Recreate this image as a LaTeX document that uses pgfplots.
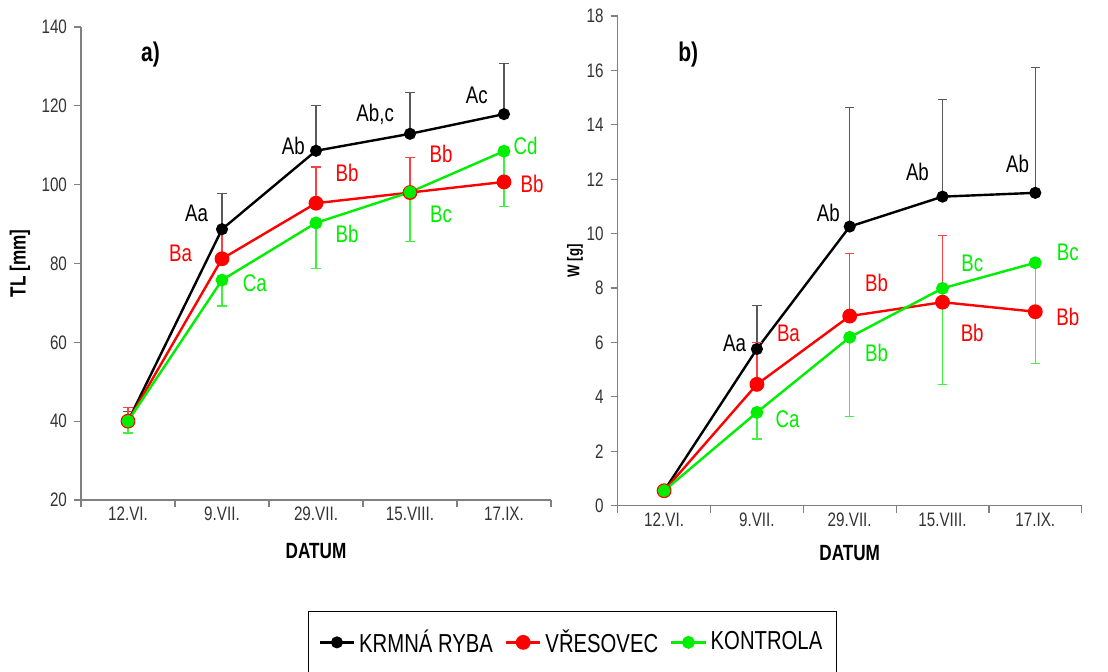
\documentclass[border=0pt]{standalone}
\usepackage{fontspec}
\setmainfont{Liberation Sans}[FakeStretch=0.78]
\usepackage{pgfplots}
\pgfplotsset{compat=1.18}
\definecolor{cred}{RGB}{255,0,0}
\definecolor{cgreen}{RGB}{0,238,0}
\newcommand{\ann}{\fontsize{12}{14}\selectfont}
\newcommand{\pan}{\bfseries\fontsize{13.5}{15}\selectfont}

\pgfplotsset{
 common/.style={
  scale only axis, clip=false,
  axis x line*=bottom, axis y line*=left,
  axis line style={draw=black!50, line width=0.6pt},
  xmin=-0.5, xmax=4.5,
  xtick={-0.5,0.5,1.5,2.5,3.5,4.5},
  xticklabels={},
  extra x ticks={0,1,2,3,4},
  extra x tick labels={12.VI.,9.VII.,29.VII.,15.VIII.,17.IX.},
  extra x tick style={major tick length=0pt},
  tick align=outside,
  major tick length=3.5pt,
  tick style={draw=black!50, line width=0.6pt},
  tick label style={font=\fontsize{9.75}{11}\selectfont, text=black!80},
  /pgf/number format/assume math mode=true,
  xlabel={DATUM},
  label style={font=\bfseries\fontsize{11}{13}\selectfont},
 },
 sblack/.style={black, line width=1.2pt, mark=*, mark size=2.4pt, mark options={solid, fill=black}},
 sred/.style={cred, line width=1.2pt, mark=*, mark size=3.1pt, mark options={solid, fill=cred}},
 sgreen/.style={cgreen, line width=1.2pt, mark=*, mark size=2.6pt, mark options={solid, fill=cgreen}},
 eb/.style={error bars/.cd, y dir=#1, y explicit, error mark=-},
}

\pgfplotstableread{
x y e
0 40 2.5
1 88.7 9.1
2 108.6 11.4
3 112.9 10.4
4 117.9 12.9
}\tlblack
\pgfplotstableread{
x y e
0 40 3.4
1 81.2 7.0
2 95.3 9.2
3 98.0 8.8
4 100.7 7.8
}\tlred
\pgfplotstableread{
x y e
0 40 3.0
1 75.8 6.6
2 90.3 11.5
3 98.1 12.5
4 108.5 14.1
}\tlgreen
\pgfplotstableread{
x y e
0 0.55 0.1
1 5.76 1.61
2 10.26 4.37
3 11.36 3.56
4 11.50 4.60
}\wblack
\pgfplotstableread{
x y e
0 0.55 0.17
1 4.46 1.53
2 6.97 2.31
3 7.48 2.44
4 7.13 1.80
}\wred
\pgfplotstableread{
x y e
0 0.55 0.05
1 3.43 0.98
2 6.19 2.92
3 7.99 3.53
4 8.93 3.71
}\wgreen

\begin{document}
\begin{tikzpicture}
\useasboundingbox (0,0) rectangle (554pt,335.5pt);
\begin{axis}[common,
  at={(40.5pt,85.5pt)}, anchor=south west,
  width=235pt, height=236.5pt,
  ymin=20, ymax=140, ytick={20,40,...,140},
  ylabel={TL [mm]},
  ylabel style={at={(axis description cs:-0.13,0.5)}, anchor=center},
  xlabel style={at={(axis description cs:0.5,-0.108)}, anchor=center},
  legend style={at={(axis description cs:1.0457,-0.301)}, anchor=center,
    legend columns=3, draw=black, line width=0.5pt,
    font=\fontsize{13}{15}\selectfont, inner xsep=5pt, inner ysep=7pt,
    /tikz/every even column/.append style={column sep=4pt}},
  legend cell align=left,
]
\addplot+[sblack, eb=plus,
  error bar style={black!65, line width=0.6pt, solid},
  error mark options={rotate=90, black!65, mark size=2.3pt, line width=0.6pt}]
  table[x=x, y=y, y error=e] {\tlblack};
\addlegendentry{KRMNÁ RYBA}
\addplot+[sred, eb=plus,
  error bar style={cred!75, line width=0.6pt, solid},
  error mark options={rotate=90, cred!75, mark size=2.3pt, line width=0.6pt}]
  table[x=x, y=y, y error=e] {\tlred};
\addlegendentry{VŘESOVEC}
\addplot+[sgreen, eb=minus,
  error bar style={cgreen!75, line width=0.6pt, solid},
  error mark options={rotate=90, cgreen!75, mark size=2.3pt, line width=0.6pt}]
  table[x=x, y=y, y error=e] {\tlgreen};
\addlegendentry{KONTROLA}
\node[font=\pan] at (axis cs:0.24,132.9) {a)};
\node[font=\ann, text=black] at (axis cs:0.73,92.7) {Aa};
\node[font=\ann, text=cred] at (axis cs:0.56,82.6) {Ba};
\node[font=\ann, text=cgreen] at (axis cs:1.35,75) {Ca};
\node[font=\ann, text=black] at (axis cs:1.76,109.9) {Ab};
\node[font=\ann, text=cred] at (axis cs:2.33,103.1) {Bb};
\node[font=\ann, text=cgreen] at (axis cs:2.33,87.6) {Bb};
\node[font=\ann, text=black] at (axis cs:2.63,117.8) {Ab,c};
\node[font=\ann, text=cred] at (axis cs:3.33,107.8) {Bb};
\node[font=\ann, text=cgreen] at (axis cs:3.33,92.5) {Bc};
\node[font=\ann, text=black] at (axis cs:3.71,122.7) {Ac};
\node[font=\ann, text=cgreen] at (axis cs:4.23,109.9) {Cd};
\node[font=\ann, text=cred] at (axis cs:4.30,100.3) {Bb};
\end{axis}

\begin{axis}[common,
  at={(308.85pt,82.65pt)}, anchor=south west,
  width=232pt, height=244.85pt,
  ymin=0, ymax=18, ytick={0,2,...,18},
  ylabel={W [g]},
  ylabel style={at={(axis description cs:-0.092,0.5)}, anchor=center, font=\bfseries\fontsize{8.5}{10}\selectfont},
  xlabel style={at={(axis description cs:0.5,-0.0966)}, anchor=center},
]
\addplot+[sblack, eb=plus,
  error bar style={black!65, line width=0.6pt, solid},
  error mark options={rotate=90, black!65, mark size=2.3pt, line width=0.6pt}]
  table[x=x, y=y, y error=e] {\wblack};
\addplot+[sred, eb=plus,
  error bar style={cred!75, line width=0.6pt, solid},
  error mark options={rotate=90, cred!75, mark size=2.3pt, line width=0.6pt}]
  table[x=x, y=y, y error=e] {\wred};
\addplot+[sgreen, eb=minus,
  error bar style={cgreen!75, line width=0.6pt, solid},
  error mark options={rotate=90, cgreen!75, mark size=2.3pt, line width=0.6pt}]
  table[x=x, y=y, y error=e] {\wgreen};
\node[font=\pan] at (axis cs:0.26,16.57) {b)};
\node[font=\ann, text=black] at (axis cs:0.76,5.97) {Aa};
\node[font=\ann, text=cred] at (axis cs:1.34,6.34) {Ba};
\node[font=\ann, text=cgreen] at (axis cs:1.33,3.19) {Ca};
\node[font=\ann, text=black] at (axis cs:1.77,10.75) {Ab};
\node[font=\ann, text=cred] at (axis cs:2.29,8.18) {Bb};
\node[font=\ann, text=cgreen] at (axis cs:2.29,5.6) {Bb};
\node[font=\ann, text=black] at (axis cs:2.73,12.26) {Ab};
\node[font=\ann, text=cgreen] at (axis cs:3.32,8.89) {Bc};
\node[font=\ann, text=cred] at (axis cs:3.32,6.36) {Bb};
\node[font=\ann, text=black] at (axis cs:3.81,12.55) {Ab};
\node[font=\ann, text=cgreen] at (axis cs:4.35,9.32) {Bc};
\node[font=\ann, text=cred] at (axis cs:4.35,6.95) {Bb};
\end{axis}
\end{tikzpicture}
\end{document}
